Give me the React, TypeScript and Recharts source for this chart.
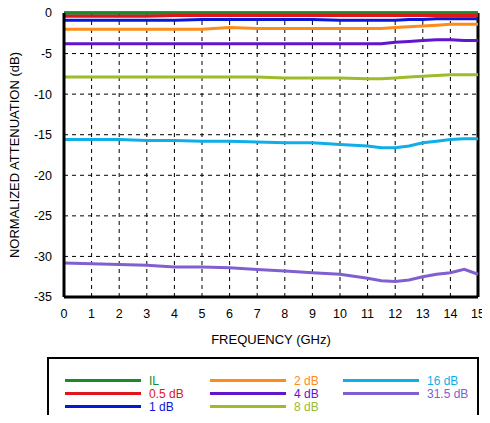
import { LineChart, Line, XAxis, YAxis, CartesianGrid, Label, ReferenceLine } from "recharts";

const freqs = [0, 1, 2, 3, 4, 5, 6, 7, 8, 9, 10, 11, 11.5, 12, 12.5, 13, 13.5, 14, 14.5, 15];
const il = [0, 0, 0, 0, 0, 0, 0, 0, 0, 0, 0, 0, 0, 0, 0, 0, 0, 0, 0, 0];
const db05 = [-0.4, -0.4, -0.4, -0.4, -0.3, -0.3, -0.3, -0.3, -0.3, -0.3, -0.3, -0.3, -0.3, -0.3, -0.3, -0.3, -0.3, -0.3, -0.3, -0.3];
const db1 = [-0.9, -0.9, -0.9, -0.9, -0.9, -0.8, -0.8, -0.8, -0.8, -0.8, -0.9, -0.9, -0.9, -0.9, -0.8, -0.8, -0.7, -0.7, -0.7, -0.7];
const db2 = [-2.0, -2.0, -2.0, -2.0, -2.0, -2.0, -1.8, -1.9, -1.9, -1.9, -1.9, -1.9, -1.9, -1.8, -1.7, -1.6, -1.5, -1.4, -1.4, -1.4];
const db4 = [-3.8, -3.8, -3.8, -3.8, -3.8, -3.8, -3.8, -3.8, -3.8, -3.8, -3.8, -3.8, -3.8, -3.6, -3.5, -3.4, -3.3, -3.3, -3.4, -3.4];
const db8 = [-7.9, -7.9, -7.9, -7.9, -7.9, -7.9, -7.9, -7.9, -8.0, -8.0, -8.0, -8.1, -8.1, -8.0, -7.9, -7.8, -7.7, -7.6, -7.6, -7.6];
const db16 = [-15.6, -15.6, -15.6, -15.7, -15.7, -15.8, -15.8, -15.9, -16.0, -16.0, -16.2, -16.4, -16.6, -16.6, -16.4, -16.0, -15.8, -15.6, -15.5, -15.5];
const db315 = [-30.8, -30.9, -31.0, -31.1, -31.3, -31.3, -31.4, -31.6, -31.8, -32.0, -32.2, -32.7, -33.0, -33.1, -32.9, -32.5, -32.2, -32.0, -31.6, -32.2];

const xTicks = Array.from({ length: 16 }, (_, i) => i);
const yTicks = [0, -5, -10, -15, -20, -25, -30, -35];

const series = [
  { key: "il", name: "IL", color: "#1a8a2a", values: il },
  { key: "db05", name: "0.5 dB", color: "#e0161b", values: db05 },
  { key: "db1", name: "1 dB", color: "#0a16d6", values: db1 },
  { key: "db2", name: "2 dB", color: "#ff8c1a", values: db2 },
  { key: "db4", name: "4 dB", color: "#6015d0", values: db4 },
  { key: "db8", name: "8 dB", color: "#9dbb2a", values: db8 },
  { key: "db16", name: "16 dB", color: "#10aee8", values: db16 },
  { key: "db315", name: "31.5 dB", color: "#8060d0", values: db315 },
];

const data = freqs.map((f, i) => {
  const row: Record<string, number> = { f };
  series.forEach((s) => (row[s.key] = s.values[i]));
  return row;
});

const legendCols = [series.slice(0, 3), series.slice(3, 6), series.slice(6)];
const legendLeft = [16, 161, 294];

export default function App() {
  const font = "'Liberation Sans', Arial, sans-serif";
  return (
    <div style={{ position: "relative", width: 490, height: 423, margin: -8, fontFamily: font, background: "#fff", overflow: "hidden" }}>
      <LineChart width={490} height={352} data={data} margin={{ top: 13, right: 12, left: 4, bottom: 25 }} style={{ overflow: "visible" }}>
        <CartesianGrid stroke="#000" strokeDasharray="4 4" />
        <XAxis
          dataKey="f"
          type="number"
          domain={[0, 15]}
          ticks={xTicks}
          interval={0}
          tick={{ fill: "#000", fontSize: 12.5 }}
          tickLine={false}
          axisLine={{ stroke: "#000", strokeWidth: 3 }}
          tickMargin={6}
          height={30}
        >
          <Label value="FREQUENCY (GHz)" position="bottom" offset={8} fill="#000" fontSize={13} />
        </XAxis>
        <YAxis
          type="number"
          domain={[-35, 0]}
          ticks={yTicks}
          interval={0}
          tick={{ fill: "#000", fontSize: 12.5 }}
          tickLine={false}
          axisLine={{ stroke: "#000", strokeWidth: 3 }}
          width={60}
          tickMargin={6}
        >
          <Label value="NORMALIZED ATTENUATION (dB)" angle={-90} position="insideLeft" offset={10} style={{ textAnchor: "middle" }} fill="#000" fontSize={13} />
        </YAxis>
        <ReferenceLine x={15} stroke="#000" strokeWidth={3} />
        <ReferenceLine y={0} stroke="#000" strokeWidth={3} />
        {series.map((s) => (
          <Line key={s.key} dataKey={s.key} type="linear" stroke={s.color} strokeWidth={3} dot={false} isAnimationActive={false} />
        ))}
      </LineChart>
      <div
        style={{
          position: "absolute",
          left: 47,
          top: 357,
          width: 432,
          height: 70,
          border: "2px solid #000",
          boxSizing: "border-box",
        }}
      >
        {legendCols.map((col, ci) => (
          <div key={ci} style={{ position: "absolute", left: legendLeft[ci], top: 15 }}>
            {col.map((s) => (
              <div key={s.key} style={{ display: "flex", alignItems: "center", height: 13, whiteSpace: "nowrap" }}>
                <div style={{ width: 76, height: 3, background: s.color, marginRight: 8 }} />
                <span style={{ color: s.color, fontSize: 12, lineHeight: "12px" }}>{s.name}</span>
              </div>
            ))}
          </div>
        ))}
      </div>
    </div>
  );
}
